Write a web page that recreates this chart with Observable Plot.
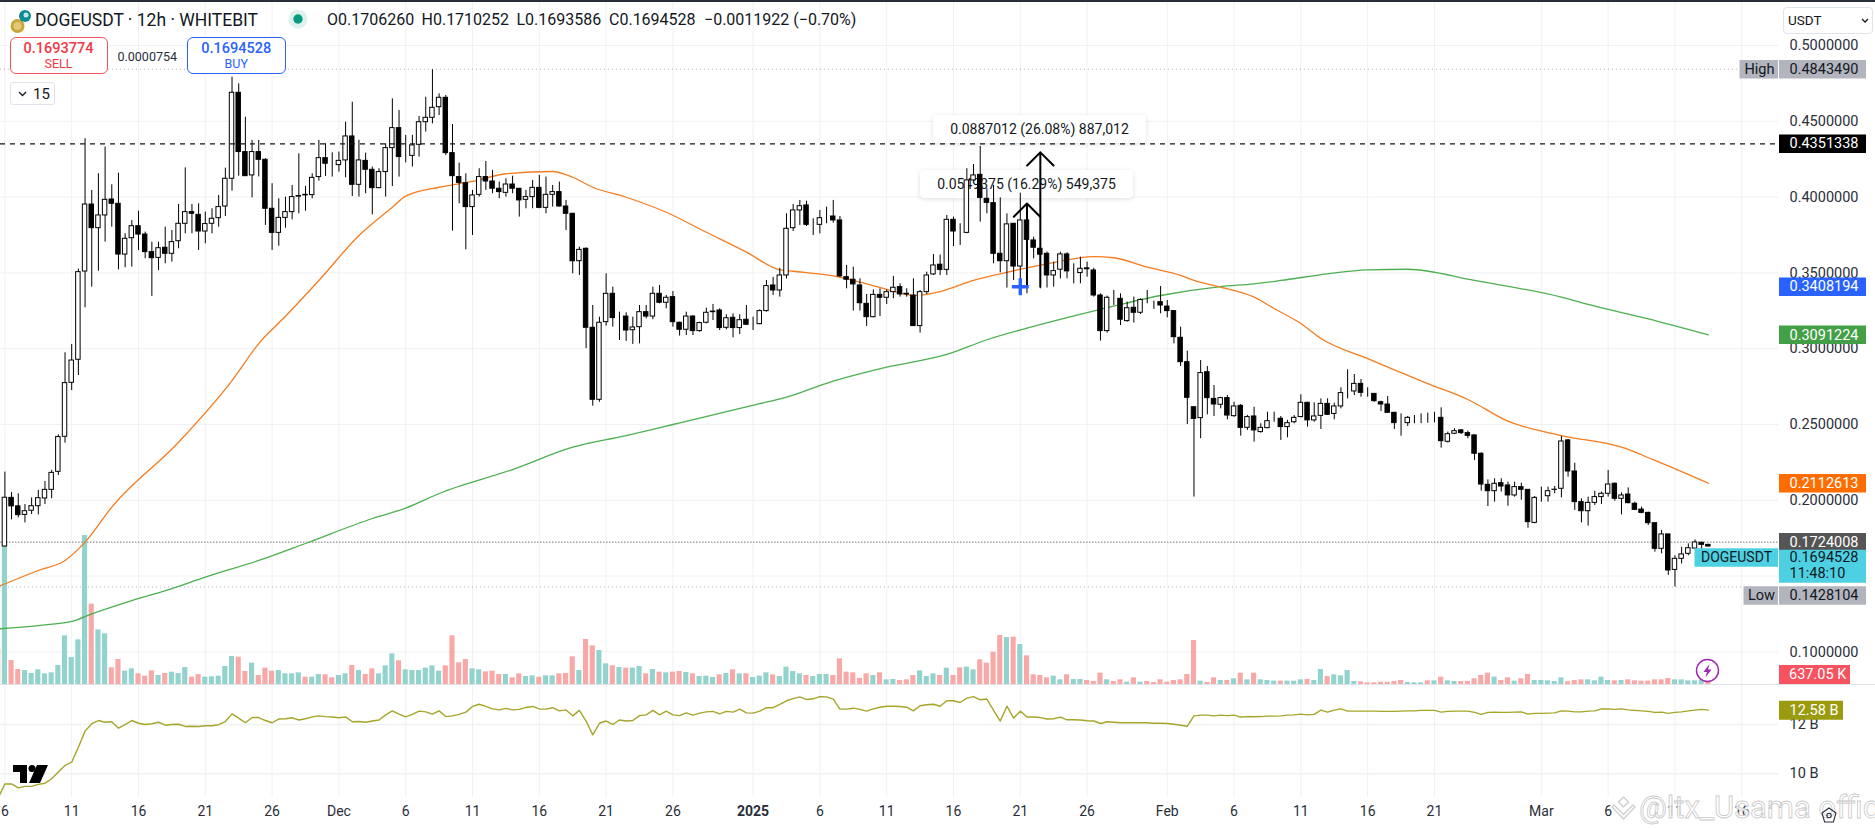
<!DOCTYPE html>
<html><head><meta charset="utf-8">
<script src="https://cdn.jsdelivr.net/npm/d3@7"></script>
<script src="https://cdn.jsdelivr.net/npm/@observablehq/plot@0.6"></script>
<style>
html,body{margin:0;padding:0;background:#fff;font-family:Roboto,sans-serif;color:#131722}
#stage{position:relative;width:1875px;height:828px;overflow:hidden}
#stage>svg.plot,#stage>svg{position:absolute;left:0}
.abs{position:absolute;white-space:nowrap}
.box{position:absolute;box-sizing:border-box;background:#fff;text-align:center;border-radius:6px}
.note{position:absolute;box-sizing:border-box;background:#fff;border-radius:4px;box-shadow:0 1px 5px rgba(0,0,0,.13);font-size:14px;line-height:28px;text-align:center;white-space:nowrap;color:#131722}
</style></head><body><div id="stage"></div>
<script>
const opens=[.1695,.2016,.196,.1904,.1931,.1961,.2012,.2069,.2188,.2419,
.2775,.2927,.3509,.3951,.3795,.3879,.3984,.3956,.3621,.3729,
.3808,.3753,.3637,.3599,.3666,.3626,.3709,.3824,.3901,.3883,
.3773,.3824,.3861,.3938,.4121,.4688,.4297,.4143,.4297,.4246,
.3923,.3764,.3863,.3901,.4003,.4011,.4013,.4132,.4257,.4220,
.4211,.4242,.4400,.4081,.4239,.4180,.4059,.4165,.4323,.4455,
.4270,.4272,.4345,.4494,.4523,.4593,.4655,.4290,.4132,.4092,
.3934,.4015,.4132,.4103,.4055,.4028,.4083,.4055,.3982,.4000,
.4061,.3929,.4015,.4033,.3938,.3890,.3577,.3659,.3138,.2663,
.3175,.3362,.3204,.3212,.3122,.3142,.3241,.3212,.3362,.3303,
.3340,.3171,.3125,.3212,.3116,.3171,.3245,.3252,.3138,.3204,
.3136,.3191,.3164,.3162,.3248,.3417,.3384,.3483,.3795,.3912,
.3945,.3819,.3817,.3870,.3872,.3846,.3472,.3455,.3417,.3296,
.3208,.3355,.3336,.3373,.3406,.3362,.3351,.3149,.3373,.3490,
.3554,.3520,.3850,.3764,.3764,.4110,.4147,.3989,.3960,.3626,
.3577,.3824,.3542,.3846,.3714,.3659,.3626,.3483,.3521,.3622,
.3499,.3499,.3530,.3516,.3351,.3116,.3314,.3329,.3182,.3270,
.3237,.3314,.3314,.3307,.3278,.3248,.3072,.2911,.2614,.2542,
.2845,.2669,.2630,.2674,.2555,.2623,.2478,.2553,.2450,.2476,
.2531,.2538,.2483,.2515,.2549,.2643,.2527,.2557,.2636,.2570,
.2619,.2718,.2718,.2768,.2716,.2702,.2647,.2632,.2577,.2509,
.2509,.2548,.2548,.2548,.2548,.2544,.2386,.2439,.2461,.2443,
.2428,.2307,.2102,.2060,.2113,.2098,.2032,.2087,.2069,.1851,
.2021,.2027,.2069,.2076,.2395,.2190,.1988,.1928,.1983,.2021,
.2043,.2109,.2010,.2038,.1977,.1939,.1917,.1849,.1680,.1775,
.1541,.1614,.1647,.1682,.1720,.1706];
const closes=[.2017,.196,.1902,.1928,.1961,.2014,.2069,.2181,.2417,.2773,
.2922,.3505,.3951,.3795,.3879,.3982,.3956,.3621,.3725,.3808,
.3753,.3637,.3597,.3663,.3626,.3703,.3824,.3901,.3890,.3773,
.3822,.3857,.3934,.4121,.4688,.4297,.4138,.4297,.4246,.3923,
.3764,.3863,.3901,.4000,.4007,.4015,.4127,.4257,.4220,.4220,
.4239,.4400,.4081,.4242,.4180,.4059,.4165,.4323,.4455,.4264,
.4270,.4341,.4494,.4523,.4589,.4655,.4290,.4138,.4094,.3934,
.4011,.4132,.4103,.4055,.4033,.4083,.4055,.3978,.4000,.4061,
.3929,.4015,.4033,.3938,.3890,.3577,.3652,.3138,.2663,.3171,
.3362,.3202,.3204,.3120,.3140,.3241,.3212,.3362,.3303,.3336,
.3175,.3125,.3212,.3116,.3169,.3237,.3241,.3136,.3201,.3136,
.3188,.3158,.3164,.3248,.3413,.3384,.3483,.3791,.3912,.3940,
.3817,.3819,.3861,.3870,.3846,.3477,.3455,.3424,.3300,.3208,
.3355,.3336,.3373,.3402,.3358,.3358,.3149,.3373,.3483,.3549,
.3520,.3850,.3773,.3764,.4110,.4143,.3995,.3962,.3626,.3577,
.3820,.3542,.3846,.3718,.3666,.3620,.3483,.3512,.3622,.3510,
.3499,.3527,.3524,.3351,.3116,.3336,.3314,.3191,.3267,.3237,
.3322,.3314,.3314,.3285,.3248,.3076,.2911,.2676,.2537,.2839,
.2674,.2632,.2674,.2559,.2619,.2478,.2549,.2461,.2478,.2522,
.2531,.2483,.2509,.2544,.2643,.2527,.2553,.2636,.2564,.2619,
.2707,.2718,.2768,.2709,.2716,.2654,.2632,.2577,.2509,.2509,
.2544,.2548,.2548,.2548,.2548,.2390,.2436,.2456,.2443,.2425,
.2307,.2104,.2060,.2109,.2091,.2032,.2087,.2069,.1856,.2016,
.2021,.2060,.2070,.2388,.2190,.1988,.1928,.1983,.2021,.2043,
.2104,.2010,.2032,.1981,.1937,.1917,.1849,.1680,.1775,.1537,
.1614,.1643,.1684,.1722,.1706,.1695];
const highs=[.2186,.2052,.2043,.1972,.2016,.2065,.2124,.2197,.2432,.2973,
.3028,.3525,.4385,.4044,.4154,.4330,.4081,.4158,.3758,.3846,
.3907,.3769,.3703,.3703,.3802,.3780,.3951,.4193,.3951,.3956,
.3901,.3923,.4011,.4191,.4791,.4747,.4527,.4374,.4374,.4253,
.4088,.3989,.4000,.4077,.4286,.4070,.4154,.4374,.4352,.4292,
.4297,.4494,.4626,.4374,.4290,.4198,.4187,.4352,.4648,.4571,
.4407,.4407,.4532,.4659,.4840,.4681,.4670,.4479,.4224,.4154,
.4044,.4187,.4235,.4176,.4099,.4121,.4138,.4055,.4044,.4110,
.4143,.4132,.4077,.4099,.3978,.3890,.3670,.3665,.3285,.3208,
.3494,.3406,.3241,.3237,.3208,.3285,.3285,.3406,.3417,.3351,
.3377,.3175,.3241,.3219,.3175,.3267,.3292,.3263,.3224,.3230,
.3224,.3285,.3208,.3256,.3450,.3470,.3530,.3890,.3951,.3978,
.3973,.3857,.3912,.3934,.3978,.3872,.3549,.3538,.3461,.3358,
.3388,.3395,.3388,.3477,.3428,.3395,.3461,.3384,.3505,.3621,
.3618,.3879,.3868,.3824,.4187,.4215,.4334,.4055,.4077,.3995,
.3890,.3824,.4026,.3945,.3736,.3670,.3637,.3571,.3637,.3633,
.3560,.3604,.3571,.3531,.3362,.3347,.3384,.3362,.3307,.3340,
.3329,.3384,.3314,.3410,.3318,.3252,.3142,.2984,.2614,.2922,
.2883,.2757,.2680,.2691,.2647,.2632,.2560,.2614,.2505,.2581,
.2581,.2553,.2527,.2559,.2696,.2647,.2643,.2669,.2669,.2641,
.2742,.2861,.2830,.2797,.2742,.2702,.2654,.2685,.2581,.2570,
.2553,.2559,.2570,.2575,.2581,.2610,.2450,.2472,.2467,.2456,
.2432,.2313,.2135,.2142,.2142,.2120,.2120,.2113,.2069,.2025,
.2087,.2087,.2091,.2421,.2401,.2245,.2010,.2021,.2060,.2054,
.2197,.2115,.2049,.2082,.1988,.1955,.1922,.1849,.1801,.1775,
.1634,.1690,.1713,.1739,.1724,.1710];
const lows=[.1690,.1871,.1884,.1851,.1906,.1904,.1972,.2010,.2164,.2377,
.2724,.2823,.3270,.3406,.3511,.3703,.3802,.3520,.3534,.3538,
.3648,.3593,.3345,.3516,.3560,.3571,.3659,.3758,.3758,.3648,
.3692,.3758,.3802,.3872,.4039,.4138,.4138,.3995,.4133,.3813,
.3648,.3676,.3795,.3850,.3890,.3907,.3989,.4105,.4136,.4132,
.4165,.4127,.4004,.4000,.4022,.3883,.4055,.4000,.4070,.4132,
.4226,.4198,.4264,.4429,.4483,.4538,.4275,.3775,.3956,.3652,
.3747,.4000,.4044,.4022,.3989,.4000,.4022,.3868,.3923,.3923,
.3923,.3890,.3934,.3934,.3780,.3494,.3483,.3000,.2621,.2647,
.3149,.3142,.3054,.3048,.3028,.3032,.3197,.3191,.3296,.3263,
.3142,.3083,.3087,.3087,.3109,.3164,.3186,.3120,.3125,.3072,
.3094,.3153,.3120,.3158,.3241,.3351,.3340,.3460,.3773,.3813,
.3806,.3747,.3758,.3824,.3828,.3468,.3395,.3248,.3248,.3147,
.3204,.3212,.3292,.3329,.3340,.3340,.3149,.3103,.3358,.3483,
.3483,.3483,.3674,.3681,.3758,.4100,.3835,.3890,.3560,.3500,
.3400,.3450,.3355,.3362,.3593,.3395,.3400,.3406,.3460,.3461,
.3428,.3428,.3472,.3340,.3050,.3103,.3285,.3153,.3175,.3169,
.3226,.3296,.3259,.3230,.3204,.3032,.2883,.2500,.2021,.2406,
.2564,.2553,.2603,.2531,.2548,.2423,.2461,.2384,.2443,.2472,
.2515,.2395,.2412,.2505,.2544,.2483,.2515,.2467,.2559,.2531,
.2603,.2669,.2691,.2680,.2680,.2647,.2586,.2577,.2467,.2423,
.2487,.2505,.2505,.2508,.2510,.2344,.2377,.2434,.2434,.2406,
.2263,.2060,.1959,.1988,.2054,.1961,.2021,.2001,.1816,.1845,
.1988,.1988,.2043,.2016,.2153,.1933,.1851,.1830,.1966,.1972,
.2021,.1994,.1904,.1977,.1933,.1911,.1834,.1658,.1647,.1504,
.1428,.1580,.1634,.1680,.1669,.1694];
// volume (millions) and side start one bar earlier than the candles
const volumes=[10.7,
41.2,7.2,4.5,4.2,3.3,4.4,3.2,3.5,5.7,14.6,
8.1,13.4,44.7,24.1,16.4,15.2,5.0,7.5,4.0,4.7,
3.2,2.5,4.1,2.7,3.3,3.7,3.3,5.1,2.2,3.0,
2.2,2.3,2.5,5.4,8.4,8.2,3.9,6.4,2.7,4.9,
4.0,4.2,3.2,3.2,3.5,2.2,2.2,3.0,2.9,2.0,
2.7,3.2,5.7,4.2,3.0,4.7,3.2,5.6,9.2,7.1,
4.4,4.2,4.2,4.9,5.6,4.0,5.6,14.6,6.5,7.5,
4.7,4.4,3.8,4.0,3.0,3.0,2.0,3.2,2.4,2.6,
2.2,2.6,2.6,3.2,3.3,8.3,4.2,13.5,11.6,10.2,
6.2,5.6,5.1,4.9,4.9,5.4,3.2,4.5,3.7,3.5,
3.7,3.9,3.6,3.2,2.4,2.5,2.1,2.9,3.3,4.4,
3.2,3.2,2.1,2.5,3.5,2.9,2.4,5.2,3.9,3.2,
2.7,2.4,3.0,3.0,2.7,7.7,3.7,3.5,1.8,3.2,
2.7,3.5,1.4,1.5,1.2,1.4,2.7,4.1,2.4,3.2,
2.7,4.9,2.7,5.0,5.2,4.4,7.4,6.4,9.7,14.7,
14.1,14.2,12.0,8.6,2.9,2.7,2.0,2.5,1.4,2.9,
1.5,1.5,1.2,.9,3.4,1.4,.9,1.4,.7,2.0,
.7,.9,.6,1.4,.7,1.2,1.4,3.0,13.2,1.0,
.6,2.0,1.2,1.2,1.7,3.4,1.4,3.4,1.4,1.2,
1.0,1.0,1.0,1.0,1.4,1.5,1.2,4.5,2.4,2.9,
2.6,4.2,.9,.8,.5,.5,.7,.7,.9,1.2,
.6,.5,.5,1.1,1.1,2.2,1.1,.9,.9,.9,
1.7,2.7,3.4,2.2,1.2,2.0,1.0,1.7,3.0,1.2,
1.2,1.1,.9,2.0,.8,1.2,1.4,1.4,1.1,2.2,
1.2,1.1,1.2,1.4,1.1,1.0,1.0,1.4,1.4,1.8,
1.4,1.4,1.1,1.1,1.4,.637];
const volumeSides=("r"+
"trrttttttt"+"tttrttrrtt"+"rrrtrtttrr"+"tttttrrtrr"+"rttttrttrr"+
"ttrtrrtttr"+"ttttttrrrr"+"ttrrrtrrtt"+"rttrrrtrrt"+"trtrttrtrt"+
"rrtrtttrtr"+"trtttrtttt"+"rtttrrrrrr"+"trttrrrttt"+"rtrrttrrrr"+
"trtrrrrttr"+"ttrrrtrrtr"+"trrrrrrrrt"+"rrtrtrtrtt"+"trtttrttrt"+
"tttrrrrrrr"+"tttrtrttrr"+"rrrtrrtrrt"+"ttttrrrttt"+"trtrrrrrrr"+"ttttTr").toLowerCase();
// on-balance volume (billions), starting one bar earlier than the candles
const obv=[9.03,
9.59,9.59,9.43,9.49,9.49,9.57,9.62,9.80,10.07,10.34,
10.47,11.08,11.73,12.03,12.16,12.09,12.11,11.85,11.99,12.16,
12.05,12.00,12.03,12.09,11.97,12.00,12.01,11.92,11.93,11.92,
11.95,11.95,11.99,12.12,12.43,12.26,12.07,12.28,12.28,12.16,
12.07,12.22,12.23,12.27,12.18,12.23,12.31,12.35,12.32,12.30,
12.27,12.31,12.11,12.12,12.09,12.14,12.18,12.39,12.55,12.42,
12.31,12.41,12.54,12.51,12.42,12.55,12.32,12.35,12.41,12.50,
12.73,12.82,12.73,12.63,12.59,12.65,12.59,12.61,12.69,12.73,
12.63,12.62,12.68,12.55,12.59,12.35,12.57,12.14,11.58,12.05,
12.14,12.00,12.18,12.14,12.16,12.36,12.39,12.57,12.39,12.54,
12.39,12.36,12.47,12.38,12.46,12.51,12.53,12.43,12.53,12.50,
12.62,12.47,12.46,12.54,12.68,12.68,12.81,12.96,13.05,13.12,
13.01,13.04,13.13,13.12,13.03,12.62,12.62,12.66,12.61,12.54,
12.63,12.70,12.74,12.74,12.73,12.70,12.55,12.76,12.80,12.82,
12.74,12.96,12.96,12.89,13.07,13.13,13.00,13.03,12.57,12.14,
12.74,12.26,12.54,12.30,12.30,12.28,12.22,12.23,12.30,12.19,
12.19,12.18,12.15,12.14,12.04,12.11,12.09,12.07,12.07,12.07,
12.07,12.07,12.05,12.05,12.04,12.01,11.97,11.93,12.35,12.38,
12.38,12.35,12.38,12.36,12.38,12.30,12.32,12.31,12.32,12.34,
12.34,12.35,12.38,12.39,12.42,12.39,12.41,12.58,12.50,12.58,
12.63,12.54,12.54,12.54,12.54,12.54,12.53,12.53,12.53,12.54,
12.55,12.55,12.57,12.57,12.57,12.50,12.53,12.54,12.54,12.54,
12.49,12.41,12.49,12.50,12.49,12.49,12.50,12.51,12.42,12.45,
12.45,12.46,12.47,12.55,12.54,12.51,12.51,12.54,12.55,12.63,
12.63,12.61,12.63,12.59,12.57,12.55,12.53,12.49,12.50,12.45,
12.49,12.51,12.55,12.58,12.61,12.58];
// moving averages: bar index and price
const ema50Bars=[-1,5,9,12,16,26,34,38,42,47,53,58,60,65,70,75,82,85,88,93,99,105,111,116,118,125,128,132,136,140,145,149,156,163,166,171,176,178,182,187,190,194,197,204,213,219,225,233,242,247,255];
const ema50Prices=[.1431,.1537,.1603,.1724,.1955,.2383,.279,.3034,.3214,.345,.3747,.3933,.4006,.4065,.4103,.4154,.4169,.4131,.4065,.3999,.39,.3768,.3637,.352,.3511,.3472,.3439,.3391,.3351,.3377,.345,.3494,.356,.3608,.36,.3538,.3483,.345,.3406,.334,.3265,.3166,.3067,.2935,.277,.2665,.2522,.2427,.235,.2263,.2112613];
const ema200Bars=[-1,5,10,13,19,25,30,38,45,55,60,65,76,85,93,100,113,117,123,132,141,147,153,164,173,182,187,191,198,204,210,220,233,237,246,255];
const ema200Prices=[.1152,.1174,.1201,.1251,.1339,.1418,.1493,.1603,.1715,.188,.1948,.2045,.2203,.235,.2427,.25,.2637,.268,.2772,.2878,.2962,.3059,.3135,.3259,.3351,.341,.3428,.345,.3494,.352,.3524,.345,.334,.3292,.3197,.3091224];
// time axis
const tickDates=["2024-11-06","2024-11-11","2024-11-16","2024-11-21","2024-11-26","2024-12-01","2024-12-06","2024-12-11","2024-12-16","2024-12-21","2024-12-26","2025-01-01","2025-01-06","2025-01-11","2025-01-16","2025-01-21","2025-01-26","2025-02-01","2025-02-06","2025-02-11","2025-02-16","2025-02-21","2025-03-01","2025-03-06","2025-03-11","2025-03-16"];
const tickLabels=["6","11","16","21","26","Dec","6","11","16","21","26","2025","6","11","16","21","26","Feb","6","11","16","21","Mar","6","11","16"];
const priceTicks=[.5,.45,.4,.35,.3,.25,.2,.1];
const priceGrid=[.5,.45,.4,.35,.3,.25,.2,.15,.1];
// price-scale tags
const tagValues=["0.4843490","0.4351338","0.3408194","0.3091224","0.2112613","0.1724008","0.1428104"];
const tagPositions=[.484349,.4351338,.3408194,.3091224,.2112613,.1724008,.1372];
const tagColors=["#b2b5be","#000000","#2962ff","#43a047","#ff6d00","#555555","#b2b5be"];
const tagInk=["#131722","#ffffff","#ffffff","#ffffff","#ffffff","#ffffff","#131722"];
const fontFamily="Roboto, sans-serif";
const ink="#2a2e39", gridColor="#f0f1f4";

const bar0=Date.UTC(2024,10,6), barMs=12*3600e3;
const barDate=i=>new Date(bar0+i*barMs);
const domainX=[new Date("2024-11-05T16:06:00Z"),new Date("2025-03-18T18:00:00Z")];
const plotW=1875, frameW=1778;
const atPx=p=>new Date(+domainX[0]+(p/frameW)*(domainX[1]-domainX[0]));
const ticks=tickDates.map((d,i)=>({date:new Date(d+"T00:00:00Z"),label:tickLabels[i]}));
const candles=opens.map((o,i)=>({date:barDate(i),open:o,close:closes[i],high:highs[i],low:lows[i]}));
const vols=volumes.map((v,i)=>({date:barDate(i-1),v,side:volumeSides[i]}));
const obvRows=obv.map((v,i)=>({date:barDate(i-1),v}));
const ema50=ema50Bars.map((b,i)=>({date:barDate(b),p:ema50Prices[i]}));
const ema200=ema200Bars.map((b,i)=>({date:barDate(b),p:ema200Prices[i]}));
const half=4*3600e3;
const xOpt={type:"utc",domain:domainX,axis:null};
const common={width:plotW,marginLeft:0,marginRight:plotW-frameW,marginTop:0,marginBottom:0,x:xOpt,
  color:{type:"identity"},style:{background:"transparent",fontFamily,fontSize:"14.5px",maxWidth:"none"}};
const priceY={domain:[.0785,.52968],axis:null};

const gridLayer=Plot.plot({...common,height:684,y:priceY,marks:[
  Plot.ruleX(ticks,{x:"date",stroke:gridColor}),
  Plot.ruleY(priceGrid,{stroke:gridColor})
]});
const volumeLayer=Plot.plot({...common,height:684,y:{domain:[0,205.2],axis:null},marks:[
  Plot.rect(vols,{x1:d=>new Date(+d.date-4.6*3600e3),x2:d=>new Date(+d.date+4.6*3600e3),y1:0,y2:"v",
    fill:d=>d.side==="t"?"#93d3cd":"#f8a8a6"})
]});
const tagL=atPx(1779), tagR=atPx(1866), tagText=atPx(1789);
const tags=tagValues.map((t,i)=>({t,pos:tagPositions[i],bg:tagColors[i],ink:tagInk[i]}));
const priceLayer=Plot.plot({...common,height:684,y:priceY,marks:[
  Plot.ruleY([.484349],{x1:domainX[0],x2:atPx(1739),stroke:"#b2b5be",strokeDasharray:"1,3"}),
  Plot.ruleY([.1428104],{x1:domainX[0],x2:atPx(1743),stroke:"#b2b5be",strokeDasharray:"1,3"}),
  Plot.ruleY([.1724008],{x1:domainX[0],x2:domainX[1],stroke:"#777",strokeDasharray:"1.5,1.5"}),
  Plot.line(ema200,{x:"date",y:"p",stroke:"#4caf50",strokeWidth:1.3,curve:"monotone-x"}),
  Plot.line(ema50,{x:"date",y:"p",stroke:"#f57c1f",strokeWidth:1.3,curve:"monotone-x"}),
  Plot.ruleX(candles,{x:"date",y1:"low",y2:"high",stroke:"#000",strokeWidth:1}),
  Plot.rect(candles,{x1:d=>new Date(+d.date-half),x2:d=>new Date(+d.date+half),y1:"open",y2:"close",
    fill:d=>d.close>=d.open?"#ffffff":"#000000",stroke:"#000000",strokeWidth:1}),
  Plot.ruleY([.4351338],{x1:domainX[0],x2:domainX[1],stroke:"#131722",strokeDasharray:"5,5",strokeWidth:1.1}),
  Plot.arrow([{x:barDate(153),y1:.3408194,y2:.3957569},{x:barDate(155),y1:.3408194,y2:.4295206}],
    {x1:"x",x2:"x",y1:"y1",y2:"y2",stroke:"#000",strokeWidth:2,headAngle:90,headLength:14,insetEnd:0}),
  Plot.dot([{x:barDate(152),y:.3408194}],{x:"x",y:"y",symbol:"plus",r:5.5,stroke:"#2962ff",strokeWidth:3.4}),
  Plot.axisY(priceTicks,{anchor:"right",tickSize:0,tickPadding:11,label:null,tickFormat:d3.format(".7f"),fill:ink,fontSize:14.5}),
  Plot.ruleY(tags,{y:"pos",x1:tagL,x2:tagR,stroke:"bg",strokeWidth:18.5}),
  Plot.text(tags,{y:"pos",x:tagText,text:"t",textAnchor:"start",fill:"ink",fontSize:14.5}),
  // High / Low captions
  Plot.ruleY([tags[0]],{y:"pos",x1:atPx(1739.5),x2:atPx(1778),stroke:"#b2b5be",strokeWidth:18.5}),
  Plot.ruleY([tags[6]],{y:"pos",x1:atPx(1743.5),x2:atPx(1778),stroke:"#b2b5be",strokeWidth:18.5}),
  Plot.text([tags[0]],{y:"pos",x:atPx(1759),text:()=>"High",fill:"#131722",fontSize:14.5}),
  Plot.text([tags[6]],{y:"pos",x:atPx(1761),text:()=>"Low",fill:"#131722",fontSize:14.5}),
  // Last price tag
  Plot.ruleY([.1565],{x1:tagL,x2:tagR,stroke:"#4dd0e1",strokeWidth:33}),
  Plot.ruleY([.1622],{x1:atPx(1694.5),x2:atPx(1778),stroke:"#4dd0e1",strokeWidth:18.5}),
  Plot.text(["DOGEUSDT"],{y:.1622,x:atPx(1736),fill:"#131722",fontSize:14}),
  Plot.text(["0.1694528"],{y:.1622,x:tagText,textAnchor:"start",fill:"#131722",fontSize:14.5}),
  Plot.text(["11:48:10"],{y:.1516,x:tagText,textAnchor:"start",fill:"#131722",fontSize:14.5})
]});
// OBV pane with the time axis
const obvLayer=Plot.plot({...common,height:144,marginBottom:31,y:{domain:[9.04,13.62],axis:null},marks:[
  Plot.ruleX(ticks,{x:"date",stroke:gridColor}),
  Plot.ruleY([10,12],{stroke:gridColor,strokeWidth:1.4}),
  Plot.line(obvRows,{x:"date",y:"v",stroke:"#a5a52a",strokeWidth:1.4}),
  Plot.axisY([10,12],{anchor:"right",tickSize:0,tickPadding:11,label:null,tickFormat:d=>d+" B",fill:ink,fontSize:14.5}),
  Plot.ruleY([12.58],{x1:tagL,x2:atPx(1843),stroke:"#9b9b10",strokeWidth:19}),
  Plot.text(["12.58 B"],{y:12.58,x:tagText,textAnchor:"start",fill:"#fff",fontSize:14.5}),
  Plot.text(ticks.filter(d=>d.label!=="2025"),{x:"date",frameAnchor:"bottom",dy:18,text:"label",fill:ink,fontSize:14}),
  Plot.text(ticks.filter(d=>d.label==="2025"),{x:"date",frameAnchor:"bottom",dy:18,text:"label",fill:ink,fontSize:14,fontWeight:700})
]});

const stage=document.getElementById("stage");
function place(node,top,z){node.style.top=top+"px";node.style.zIndex=z;stage.appendChild(node);}
place(gridLayer,0,1); place(volumeLayer,0,2); place(priceLayer,0,6); place(obvLayer,684,3);
function html(s,z){const t=document.createElement("template");t.innerHTML=s.trim();const n=t.content.firstChild;n.style.zIndex=z;stage.appendChild(n);return n;}
// measure notes sit behind the candles
html(`<div class="note" style="left:933px;top:115px;width:213px;height:28px">0.0887012 (26.08%) 887,012</div>`,4);
html(`<div class="note" style="left:920px;top:170px;width:213px;height:28px">0.0549375 (16.29%) 549,375</div>`,4);
// separators
html(`<div class="abs" style="left:0;top:0;width:1875px;height:1.5px;background:#2a2e39"></div>`,8);
html(`<div class="abs" style="left:0;top:684px;width:1875px;height:1px;background:#e0e3eb"></div>`,5);
// red volume tag
html(`<div class="abs" style="left:1779px;top:665px;width:71px;height:19px;background:#f7525f;color:#fff;font-size:14.5px;line-height:19px;padding-left:10px;box-sizing:border-box">637.05 K</div>`,8);
// legend row
html(`<svg class="abs" style="left:10px;top:9px" width="21" height="26" viewBox="0 0 21 26"><circle cx="7.5" cy="17" r="7" fill="#c9a63a"/><circle cx="7.5" cy="17" r="4" fill="#e2c87a"/><circle cx="15" cy="7" r="6" fill="#0f8a94"/><circle cx="16" cy="6" r="2.5" fill="#bfe6e8"/></svg>`,8);
const f=17.5;
html(`<div class="abs" style="left:35px;top:9px;font-size:${f}px;line-height:22px;color:#131722">DOGEUSDT · 12h · WHITEBIT</div>`,8);
html(`<svg class="abs" style="left:288px;top:9px" width="20" height="20"><circle cx="10" cy="10" r="9.5" fill="#dff1ee"/><circle cx="10" cy="10" r="4.7" fill="#089981"/></svg>`,8);
[["O0.1706260",327],["H0.1710252",421.5],["L0.1693586",516.5],["C0.1694528",609],["−0.0011922 (−0.70%)",704]].forEach(([t,x])=>
  html(`<div class="abs" style="left:${x}px;top:10px;font-size:16px;line-height:20px;color:#131722">${t}</div>`,8));
// buy/sell buttons
html(`<div class="box" style="left:9.5px;top:37px;width:98px;height:37px;border:1.2px solid #f7525f;color:#f23645;z-index:8"><div style="font-size:14.5px;font-weight:500;line-height:16px;margin-top:3px">0.1693774</div><div style="font-size:12.5px;line-height:14px">SELL</div></div>`,8);
html(`<div class="abs" style="left:117.5px;top:49px;font-size:12.5px;line-height:15px;color:#2a2e39">0.0000754</div>`,8);
html(`<div class="box" style="left:187px;top:37px;width:98.5px;height:37px;border:1.2px solid #2962ff;color:#2962ff"><div style="font-size:14.5px;font-weight:500;line-height:16px;margin-top:3px">0.1694528</div><div style="font-size:12.5px;line-height:14px">BUY</div></div>`,8);
html(`<div class="box" style="left:10px;top:81.5px;width:45px;height:23px;border:1px solid #e0e3eb;border-radius:3px;font-size:15px;line-height:22px;text-align:left;padding-left:7px"><svg width="9" height="6" style="margin-right:6px;vertical-align:2px"><path d="M1 1l3.5 3.5L8 1" fill="none" stroke="#131722" stroke-width="1.3"/></svg>15</div>`,8);
html(`<div class="box" style="left:1783px;top:7px;width:90px;height:26.5px;border:1px solid #e0e3eb;border-radius:4px;font-size:13.5px;line-height:25px;text-align:left;padding-left:4px">USDT<svg width="8" height="6" style="position:absolute;right:3px;top:10px"><path d="M1 1l3 3 3-3" fill="none" stroke="#131722" stroke-width="1.3"/></svg></div>`,8);
// lightning badge
html(`<svg class="abs" style="left:1695px;top:658px" width="25" height="25" viewBox="0 0 25 25"><circle cx="12.5" cy="12.5" r="11" fill="#fff" stroke="#9c27b0" stroke-width="1.4"/><path d="M14.5 6l-6 8h3.5l-1.5 5.5 6-8h-3.5z" fill="#9c27b0"/></svg>`,8);
// TradingView logo
html(`<svg class="abs" style="left:13px;top:765px" width="35" height="18" viewBox="0 0 35 18"><path d="M0 0h14v18h-7V7H0zM24 0h11l-8 18h-11z" fill="#000"/><circle cx="19" cy="3.5" r="3.5" fill="#000"/></svg>`,8);
// watermark
html(`<svg class="abs" style="left:1611px;top:796px" width="25" height="25" viewBox="0 0 25 25"><path d="M12.5 1l5 5-5 5-5-5zM3 9l9.5 9.5L22 9l2 2-11.5 12L1 11z" fill="none" stroke="#cfcfcf" stroke-width="1.3"/></svg>`,9);
html(`<div class="abs" style="left:1639px;top:790px;font-family:Roboto,sans-serif;font-size:31px;line-height:36px;color:rgba(255,255,255,.85);-webkit-text-stroke:.8px #c9c9c9">@ltx_Usama official</div>`,9);
html(`<svg class="abs" style="left:1821px;top:807px" width="16" height="17" viewBox="0 0 16 17"><path d="M8 1l7 5-2.6 9H3.6L1 6z" fill="none" stroke="#2a2e39" stroke-width="1.1"/><circle cx="8" cy="8.5" r="2.2" fill="none" stroke="#2a2e39" stroke-width="1.1"/></svg>`,9);
console.log(opens.length,closes.length,highs.length,lows.length,volumes.length,obv.length,volumeSides.length);
</script></body></html>
